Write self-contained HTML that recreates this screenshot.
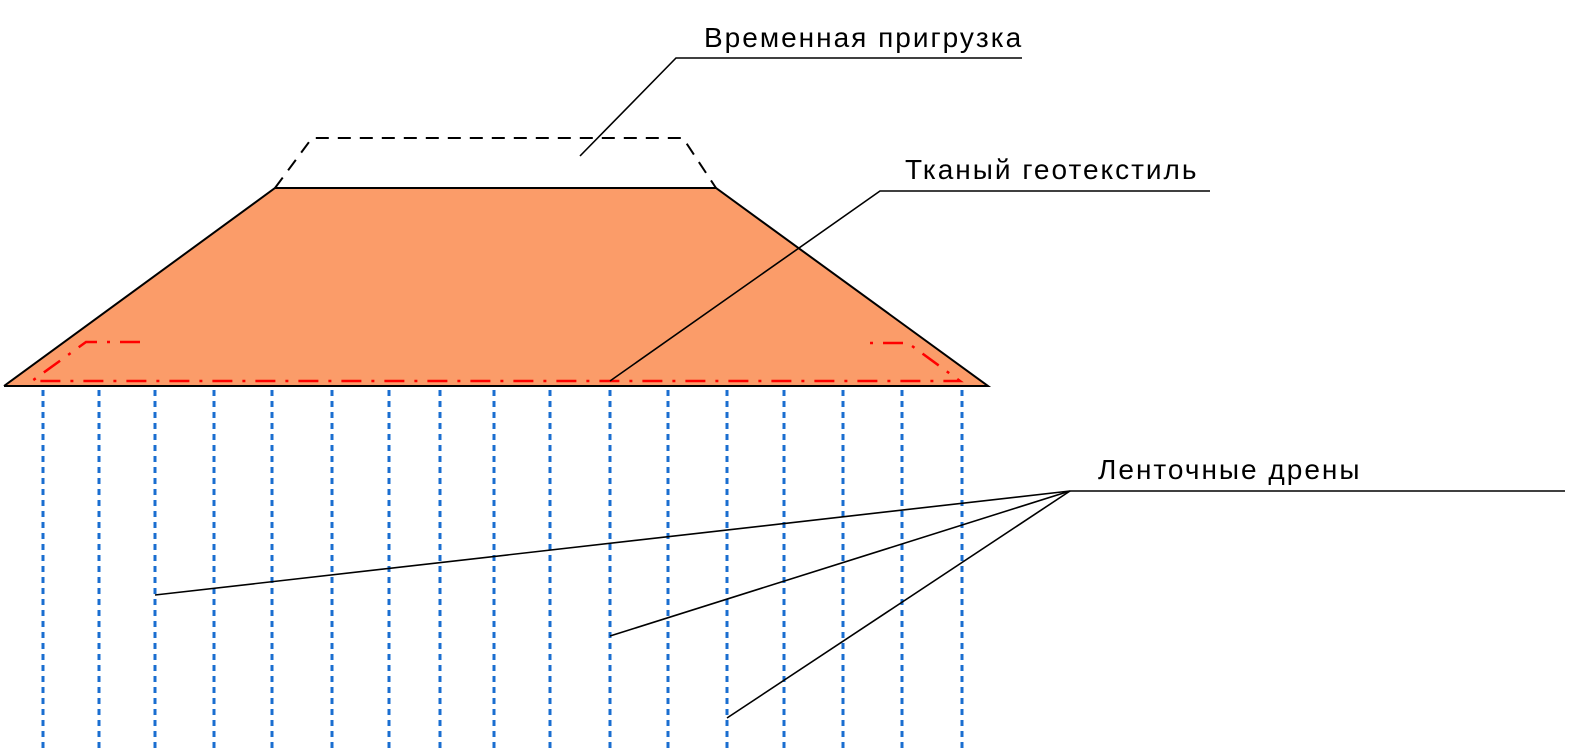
<!DOCTYPE html>
<html><head><meta charset="utf-8"><style>body{margin:0;background:#fff}svg{display:block}text{font-family:"Liberation Sans",sans-serif;font-size:28px;letter-spacing:2px;fill:#000}</style></head><body>
<svg width="1579" height="756" viewBox="0 0 1579 756" xmlns="http://www.w3.org/2000/svg">
<polygon points="4,386 275,188 716,188 988,386" fill="#FB9C69"/>
<polyline points="4,386 275,188 716,188 988,386 4,386" fill="none" stroke="#000" stroke-width="2"/>
<polyline points="275,188 312,138 683,138 716,188" fill="none" stroke="#000" stroke-width="2" stroke-dasharray="13,9"/>
<g fill="none" stroke="#f00" stroke-width="2.5" stroke-dasharray="20,10,3,10">
<polyline points="140,342 86,342 32,381 960,381 908,343 862,343"/>
</g>
<g stroke="#1a6ed0" stroke-width="3" stroke-dasharray="6,5">
<line x1="43" y1="390" x2="43" y2="750"/><line x1="99" y1="390" x2="99" y2="750"/><line x1="155" y1="390" x2="155" y2="750"/><line x1="214" y1="390" x2="214" y2="750"/><line x1="272" y1="390" x2="272" y2="750"/><line x1="332" y1="390" x2="332" y2="750"/><line x1="389" y1="390" x2="389" y2="750"/><line x1="440" y1="390" x2="440" y2="750"/><line x1="494" y1="390" x2="494" y2="750"/><line x1="550" y1="390" x2="550" y2="750"/><line x1="610" y1="390" x2="610" y2="750"/><line x1="668" y1="390" x2="668" y2="750"/><line x1="727" y1="390" x2="727" y2="750"/><line x1="784" y1="390" x2="784" y2="750"/><line x1="843" y1="390" x2="843" y2="750"/><line x1="902" y1="390" x2="902" y2="750"/><line x1="962" y1="390" x2="962" y2="750"/>
</g>
<g fill="none" stroke="#000" stroke-width="1.6">
<polyline points="580,156 676,58 1022,58"/>
<polyline points="610,381 880,191 1210,191"/>
<line x1="1070" y1="491" x2="1565" y2="491"/>
<line x1="1070" y1="491" x2="155" y2="595"/>
<line x1="1070" y1="491" x2="610" y2="636"/>
<line x1="1070" y1="491" x2="727" y2="718"/>
</g>
<text x="704" y="47">Временная пригрузка</text>
<text x="905" y="179">Тканый геотекстиль</text>
<text x="1098" y="479">Ленточные дрены</text>
</svg>
</body></html>
